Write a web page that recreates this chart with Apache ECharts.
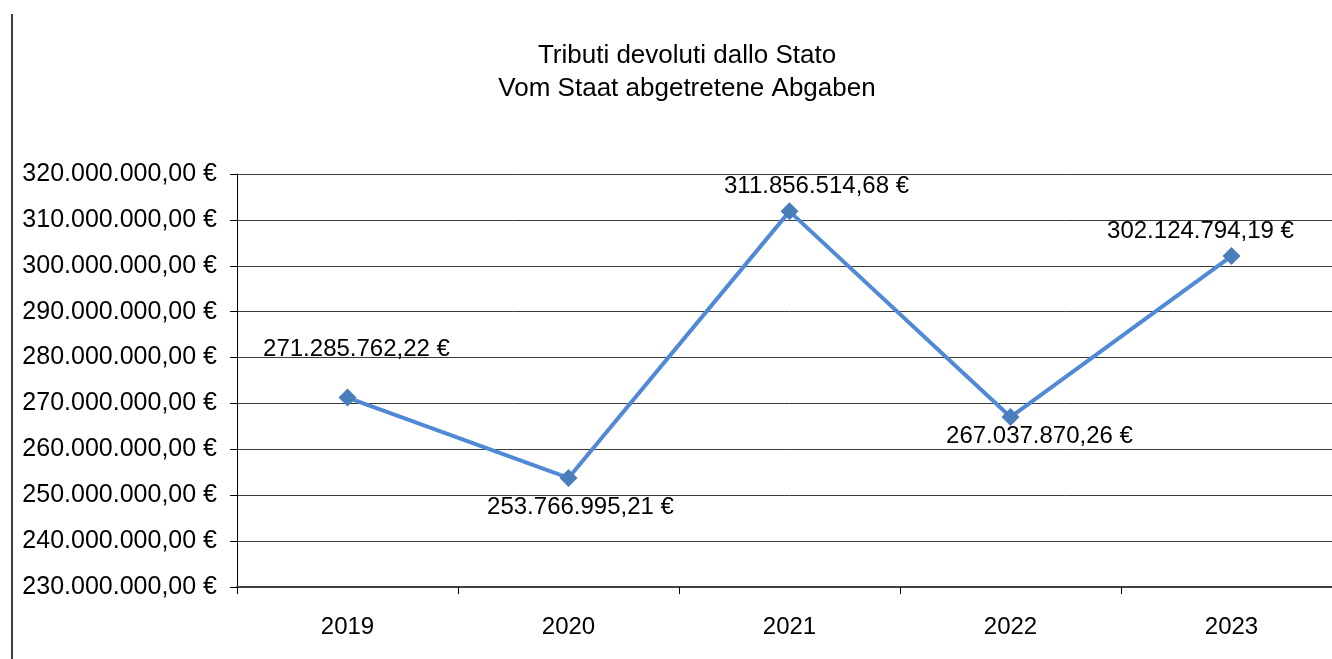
<!DOCTYPE html>
<html><head><meta charset="utf-8">
<script src="https://cdn.jsdelivr.net/npm/echarts@6/dist/echarts.min.js"></script>
<style>html,body{margin:0;padding:0;background:#fff;overflow:hidden;width:1332px;height:659px}#c{width:1350px;height:659px}</style>
</head><body><div id="c"></div>
<script>
const categories = ['2019','2020','2021','2022','2023'];
const values = [271285762.22, 253766995.21, 311856514.68, 267037870.26, 302124794.19];
const titleLines = ['Tributi devoluti dallo Stato','Vom Staat abgetretene Abgaben'];
const labelOffsets = [[9,-48],[12,29],[27,-25],[29,19],[-31,-25]];

function fmt(v){
  const parts = v.toFixed(2).split('.');
  const intPart = parts[0].replace(/\B(?=(\d{3})+(?!\d))/g,'.');
  return intPart + ',' + parts[1] + ' €';
}
const FONT = 'Liberation Sans, Arial, sans-serif';
const chart = echarts.init(document.getElementById('c'));
chart.setOption({
  animation:false,
  textStyle:{fontFamily:FONT},
  title:{text:titleLines.join('\n'),left:682,textAlign:'center',top:34,
    textStyle:{fontSize:26,fontWeight:'normal',color:'#000',lineHeight:33,fontFamily:FONT}},
  grid:{left:237,top:174,width:1105,height:413},
  xAxis:{type:'category',data:categories,boundaryGap:true,
    axisLine:{lineStyle:{color:'#404040',width:2}},
    axisTick:{show:true,length:7,lineStyle:{color:'#000',width:1}},
    axisLabel:{color:'#000',fontSize:24,margin:28}},
  yAxis:{type:'value',min:230000000,max:320000000,interval:10000000,
    axisLine:{show:true,lineStyle:{color:'#000',width:1}},
    axisTick:{show:true,length:7,lineStyle:{color:'#000'}},
    splitLine:{lineStyle:{color:'#3a3a3a',width:1}},
    axisLabel:{color:'#000',fontSize:25,margin:20,formatter:v=>fmt(v)}},
  graphic:[{type:'line',shape:{x1:12,y1:14,x2:12,y2:659},style:{stroke:'#000',lineWidth:1.5}}],
  series:[{type:'line',
    data:values.map((v,i)=>({value:v,label:{offset:labelOffsets[i]}})),
    lineStyle:{color:'#5089d6',width:4},
    itemStyle:{color:'#4a7ebb'},
    symbol:'diamond',symbolSize:18,
    label:{show:true,position:'inside',color:'#000',fontSize:24,formatter:p=>fmt(p.value)}}]
});
</script></body></html>
